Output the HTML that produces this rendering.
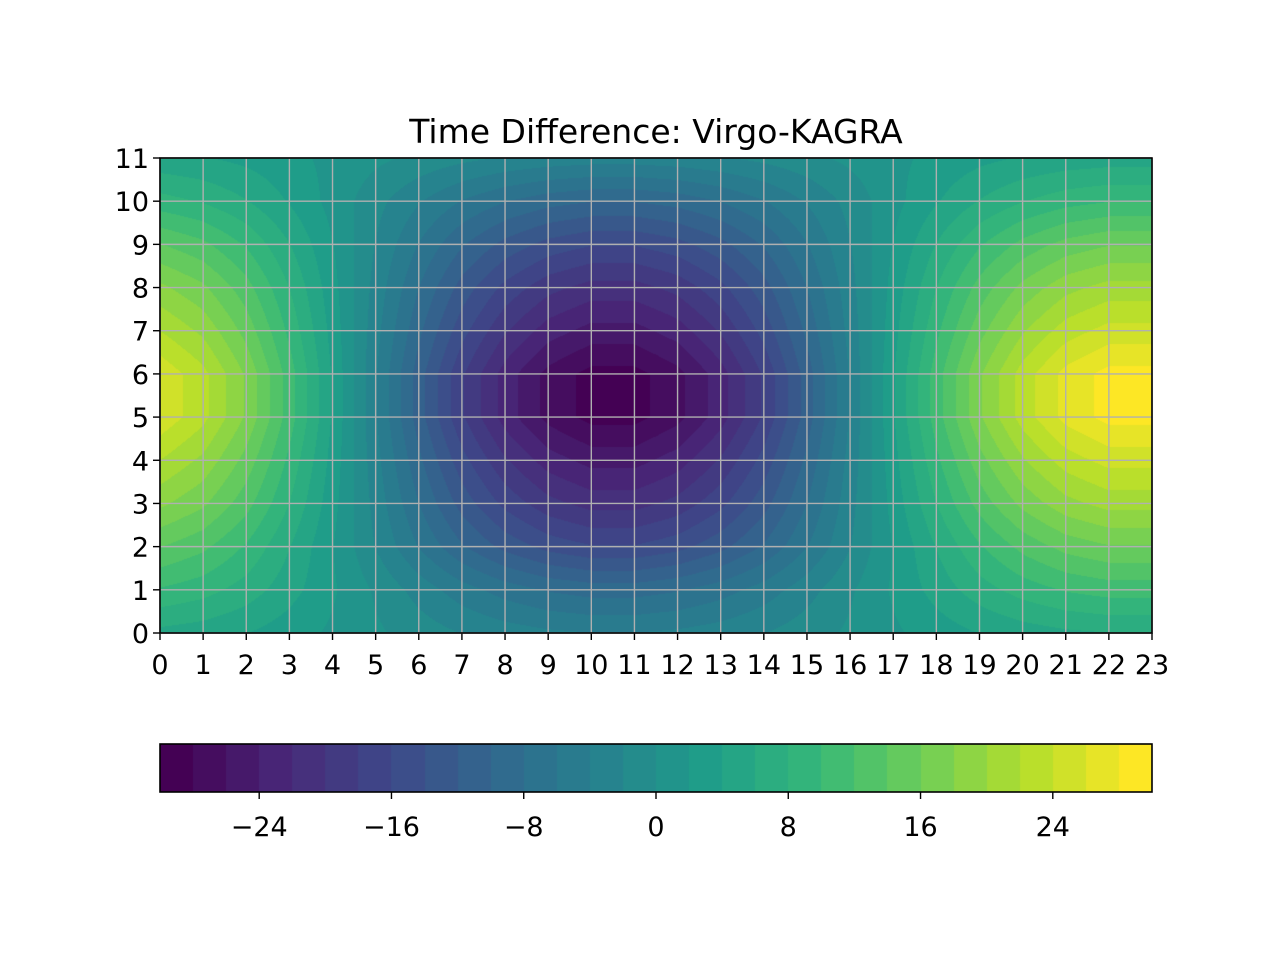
<!DOCTYPE html>
<html><head><meta charset="utf-8">
<style>
html,body{margin:0;padding:0;background:#fff;}
#wrap{position:relative;width:1280px;height:960px;font-family:"DejaVu Sans","Liberation Sans",sans-serif;}
canvas{position:absolute;}
svg{position:absolute;left:0;top:0;}
</style></head>
<body>
<div id="wrap">
<canvas id="plot" width="992" height="475" style="left:160px;top:158px"></canvas>
<canvas id="cbar" width="992" height="48" style="left:160px;top:744px"></canvas>
<svg id="ov" width="1280" height="960"></svg>
</div>
<script>
// Data: column profile (x = 0..23) and row amplitude (y = 0..11)
const xCats = [0,1,2,3,4,5,6,7,8,9,10,11,12,13,14,15,16,17,18,19,20,21,22,23];
const yCats = [0,1,2,3,4,5,6,7,8,9,10,11];
const colProfile = [0.88,0.78,0.61,0.38,0.13,-0.13,-0.38,-0.61,-0.79,-0.92,-0.99,-0.99,-0.92,-0.79,-0.61,-0.38,-0.13,0.13,0.38,0.61,0.79,0.92,0.99,0.99];
const rowAmp = [5,10,16,21,25,29,29,25,21,16,10,4];
const rowOffset = [1,1,0,0,0,0,0,0,0,0,0,1];
const cbTicks = [-24,-16,-8,0,8,16,24];
const vMin = -30, vMax = 30, step = 2;

const grid = yCats.map((y,j)=>xCats.map((x,i)=>rowAmp[j]*colProfile[i]+rowOffset[j]));

const PX0=160, PX1=1152, PY0=158, PY1=633;
const xs = v => PX0 + (v - xCats[0])/(xCats[xCats.length-1]-xCats[0])*(PX1-PX0);
const ys = v => PY1 - (v - yCats[0])/(yCats[yCats.length-1]-yCats[0])*(PY1-PY0);

const vir = [[68,1,84],[72,40,120],[62,73,137],[49,104,142],[38,130,142],[31,158,137],[53,183,121],[110,206,88],[181,222,43],[253,231,37]];
function cmap(t){t=Math.max(0,Math.min(1,t));const f=t*(vir.length-1);const i=Math.min(vir.length-2,Math.floor(f));const r=f-i;
 return vir[i].map((c,k)=>Math.round(c+(vir[i+1][k]-c)*r));}
const nBands = Math.round((vMax-vMin)/step);
const bandColors = [];
for(let b=0;b<nBands;b++) bandColors.push(cmap(b/(nBands-1)));

function val(x,y){
 const i=Math.min(xCats.length-2,Math.floor(x)), j=Math.min(yCats.length-2,Math.floor(y));
 const fx=x-i, fy=y-j;
 return grid[j][i]*(1-fx)*(1-fy)+grid[j][i+1]*fx*(1-fy)+grid[j+1][i]*(1-fx)*fy+grid[j+1][i+1]*fx*fy;
}
(function(){
 const c=document.getElementById('plot'),ctx=c.getContext('2d'),W=c.width,H=c.height;
 const img=ctx.createImageData(W,H);
 for(let py=0;py<H;py++)for(let px=0;px<W;px++){
  const x=(px+0.5)/W*23, y=(H-py-0.5)/H*11;
  let b=Math.floor((val(x,y)-vMin)/step); b=Math.max(0,Math.min(nBands-1,b));
  const col=bandColors[b], o=(py*W+px)*4;
  img.data[o]=col[0];img.data[o+1]=col[1];img.data[o+2]=col[2];img.data[o+3]=255;
 }
 ctx.putImageData(img,0,0);
 const cb=document.getElementById('cbar'),cx=cb.getContext('2d');
 for(let b=0;b<nBands;b++){const col=bandColors[b];cx.fillStyle=`rgb(${col})`;
  const x0=Math.round(b/nBands*cb.width),x1=Math.round((b+1)/nBands*cb.width);cx.fillRect(x0,0,x1-x0,cb.height);}
})();

const NS='http://www.w3.org/2000/svg', svg=document.getElementById('ov');
function mk(tag,attrs,txt){const e=document.createElementNS(NS,tag);for(const k in attrs)e.setAttribute(k,attrs[k]);if(txt!==undefined)e.textContent=txt;svg.appendChild(e);return e;}
xCats.forEach(v=>{
 const l=mk('line',{x1:xs(v),x2:xs(v),y1:PY0,y2:PY1,stroke:'#b0b0b0','stroke-width':1.4});
 
 
 const t=mk('line',{x1:xs(v),x2:xs(v),y1:PY1,y2:PY1+7,stroke:'#000','stroke-width':1.4});
 
 
 const tx=mk('text',{x:xs(v),y:674,'text-anchor':'middle','font-size':'27px',fill:'#000'},String(v));
 
 
});
yCats.forEach(v=>{
 const l=mk('line',{x1:PX0,x2:PX1,y1:ys(v),y2:ys(v),stroke:'#b0b0b0','stroke-width':1.4});
 
 
 const t=mk('line',{x1:PX0-7,x2:PX0,y1:ys(v),y2:ys(v),stroke:'#000','stroke-width':1.4});
 
 
 const tx=mk('text',{x:PX0-11,y:ys(v)+10,'text-anchor':'end','font-size':'27px',fill:'#000'},String(v));
 
 
});
const fr=mk('rect',{x:PX0,y:PY0,width:PX1-PX0,height:PY1-PY0,fill:'none',stroke:'#000','stroke-width':1.6});


const ti=mk('text',{x:656,y:143,'text-anchor':'middle','font-size':'33px',fill:'#000'},'Time Difference: Virgo-KAGRA');


const cf=mk('rect',{x:160,y:744,width:992,height:48,fill:'none',stroke:'#000','stroke-width':1.6});


cbTicks.forEach(v=>{
 const x=160+(v-vMin)/(vMax-vMin)*992;
 const t=mk('line',{x1:x,x2:x,y1:792,y2:799,stroke:'#000','stroke-width':1.4});
 
 
 const tx=mk('text',{x:x,y:836,'text-anchor':'middle','font-size':'27px',fill:'#000'},(v<0?'\u2212':'')+Math.abs(v));
 
 
});
</script>
</body></html>
